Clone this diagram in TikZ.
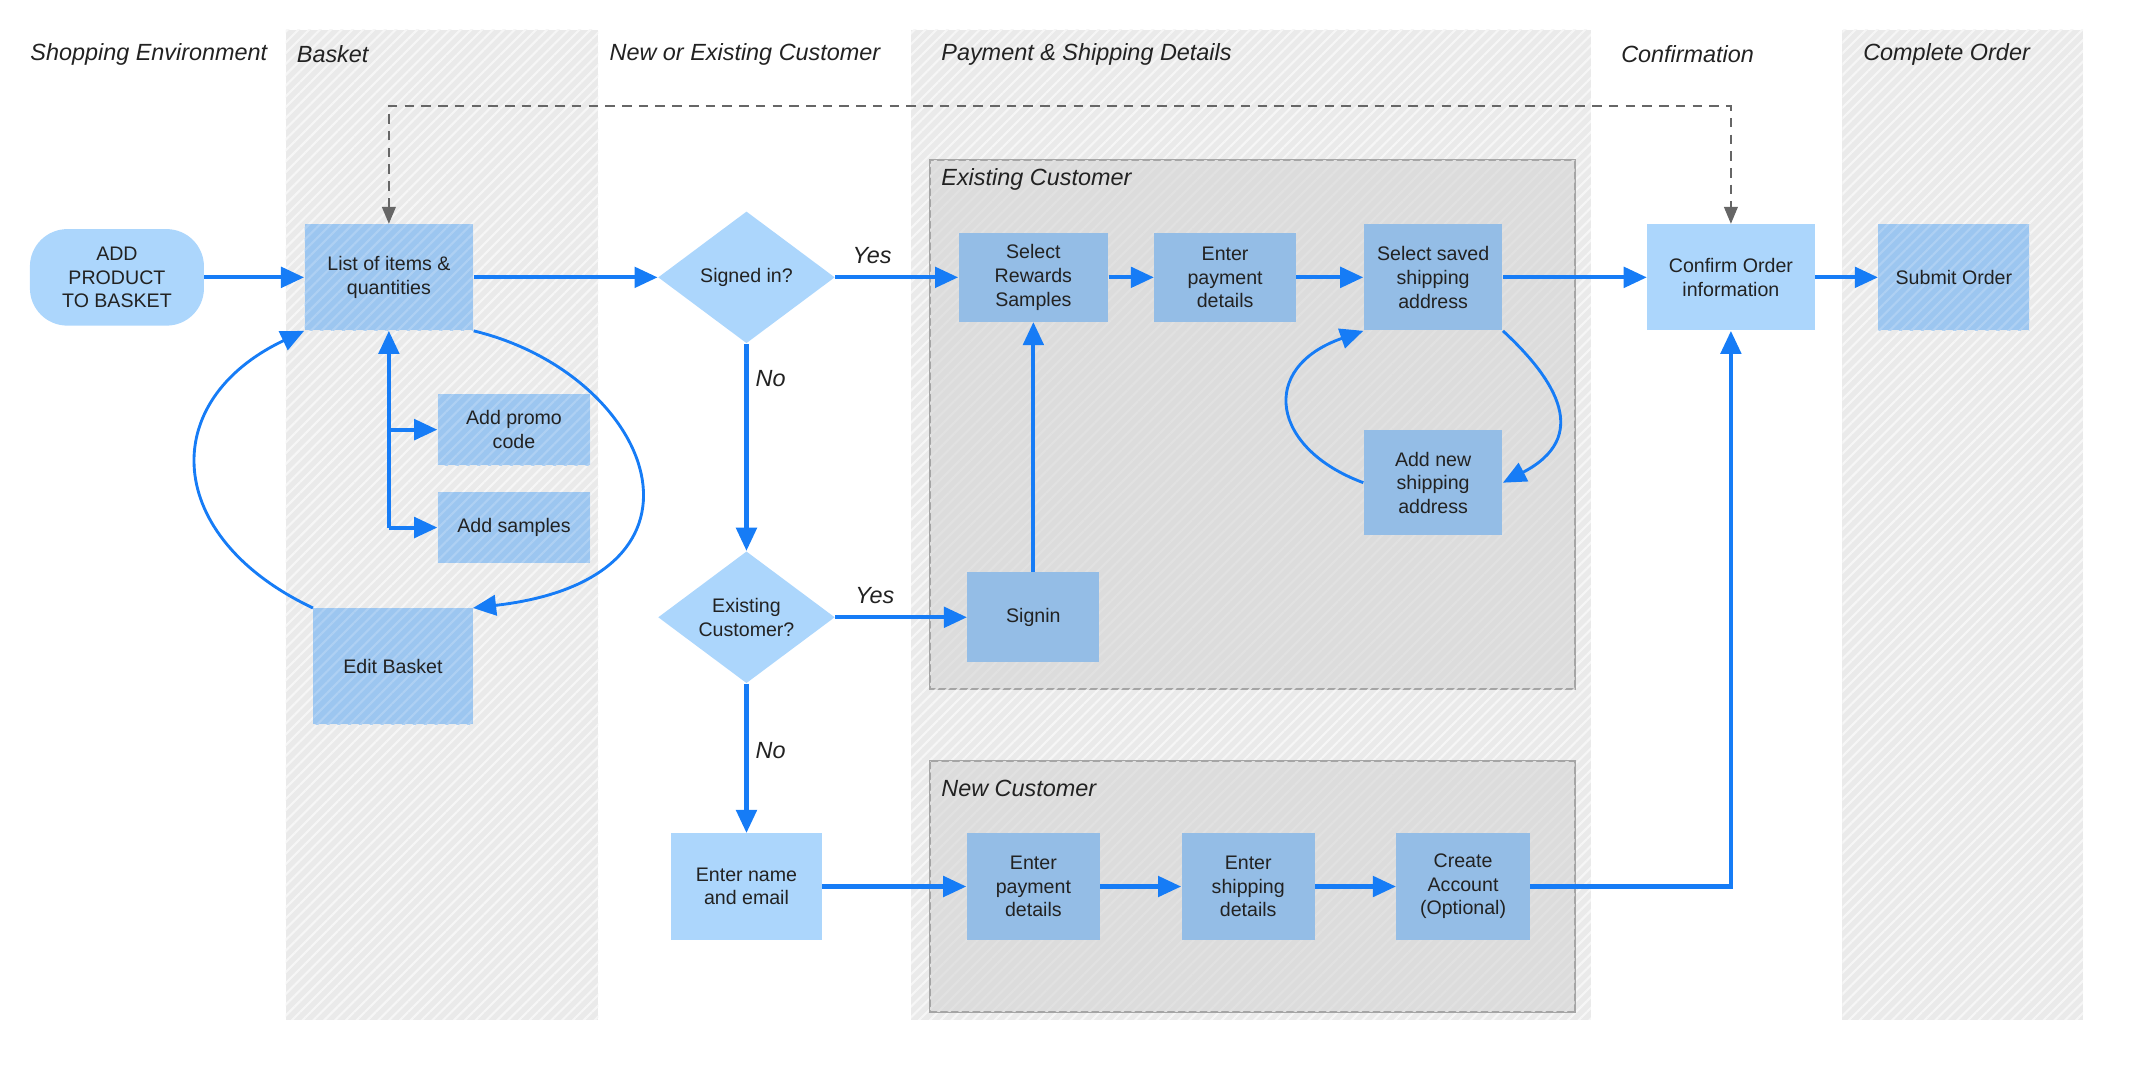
\documentclass[tikz,border=0pt]{standalone}
\usepackage{fontspec}
\setmainfont{Liberation Sans}
\usepackage{xcolor}
\usetikzlibrary{shapes.geometric, arrows.meta, patterns.meta}

\definecolor{flowblue}{RGB}{22,124,246}
\definecolor{paleblue}{RGB}{172,214,252}
\definecolor{midblue}{RGB}{156,198,240}
\definecolor{groupblue}{RGB}{148,189,230}
\definecolor{lanegray}{RGB}{234,234,234}
\definecolor{groupgray}{RGB}{220,220,220}
\definecolor{groupline}{RGB}{165,165,165}
\definecolor{inkgray}{RGB}{34,34,34}

\newcommand{\boxfont}{\fontsize{8.2}{9.9}\selectfont}
\newcommand{\titlefont}{\fontsize{9.8}{11}\selectfont\itshape}

\tikzset{
	laneband/.style={fill=lanegray, postaction={pattern={Lines[angle=45, distance=3.2pt, line width=0.9pt]}, pattern color=lanegray!45!white}},
	groupframe/.style={draw=groupline, line width=0.8pt, fill=groupgray, postaction={pattern={Lines[angle=45, distance=3.2pt, line width=0.9pt]}, pattern color=groupgray!85!white}},
	base/.style={align=center, text=inkgray, font=\boxfont, inner sep=1pt},
	plainbox/.style={base, rectangle, fill=paleblue},
	hatchbox/.style={base, rectangle, fill=midblue, postaction={pattern={Lines[angle=45, distance=3.2pt, line width=0.9pt]}, pattern color=midblue!82!white}},
	groupitem/.style={base, rectangle, fill=groupblue},
	startbox/.style={base, rectangle, rounded corners=0.55cm, fill=paleblue},
	choice/.style={base, diamond, aspect=1.34, fill=paleblue, minimum width=2.6cm, minimum height=1.94cm, inner sep=0pt},
	flow/.style={draw=flowblue, line width=1.7pt, -{Triangle[length=3.4mm, width=3mm]}},
	backflow/.style={flow, line width=1.2pt},
	dashlink/.style={draw=gray!80!black, line width=0.9pt, dash pattern=on 4pt off 3pt, {Triangle[length=2.5mm, width=2mm]}-{Triangle[length=2.5mm, width=2mm]}},
	lanetitle/.style={anchor=west, font=\titlefont, text=inkgray, inner sep=0pt},
	answer/.style={font=\titlefont, text=inkgray, inner sep=0pt}
}

\begin{document}
\begin{tikzpicture}
	\useasboundingbox (0, 0) rectangle (31.36, 15.8);

	% Lanes and groups
	\fill[laneband] (4.2, 0.8) rectangle (8.8, 15.36);
	\fill[laneband] (13.4, 0.8) rectangle (23.4, 15.36);
	\fill[laneband] (27.1, 0.8) rectangle (30.64, 15.36);

	\path[groupframe] (13.68, 5.66) rectangle (23.16, 13.44);
	\path[groupframe] (13.68, 0.92) rectangle (23.16, 4.6);

	\node[lanetitle] (shophead) at (0.44, 15.0) {Shopping Environment};
	\node[lanetitle] (baskethead) at (4.36, 15.0) {Basket};
	\node[lanetitle] (customerhead) at (8.96, 15.0) {New or Existing Customer};
	\node[lanetitle] (paymenthead) at (13.84, 15.0) {Payment \& Shipping Details};
	\node[lanetitle] (confirmhead) at (23.84, 15.0) {Confirmation};
	\node[lanetitle] (orderhead) at (27.4, 15.0) {Complete Order};

	\node[lanetitle] (oldlabel) at (13.84, 13.16) {Existing Customer};
	\node[lanetitle] (newlabel) at (13.84, 4.2) {New Customer};

	% Steps
	\node[startbox, minimum width=2.56cm, minimum height=1.42cm] (addprod) at (1.72, 11.72) {ADD\\PRODUCT\\TO BASKET};
	\node[hatchbox, minimum width=2.48cm, minimum height=1.56cm] (items) at (5.72, 11.72) {List of items \&\\quantities};
	\node[hatchbox, minimum width=2.24cm, minimum height=1.04cm] (promo) at (7.56, 9.48) {Add promo\\code};
	\node[hatchbox, minimum width=2.24cm, minimum height=1.04cm] (samples) at (7.56, 8.04) {Add samples};
	\node[hatchbox, minimum width=2.34cm, minimum height=1.7cm] (edit) at (5.78, 6.0) {Edit Basket};

	\node[choice] (signed) at (10.98, 11.72) {Signed in?};
	\node[choice] (existing) at (10.98, 6.72) {Existing\\Customer?};
	\node[plainbox, minimum width=2.22cm, minimum height=1.56cm] (name) at (10.98, 2.76) {Enter name\\and email};

	\node[groupitem, minimum width=2.2cm, minimum height=1.3cm] (rewards) at (15.2, 11.72) {Select\\Rewards\\Samples};
	\node[groupitem, minimum width=2.08cm, minimum height=1.3cm] (payold) at (18.02, 11.72) {Enter\\payment\\details};
	\node[groupitem, minimum width=2.04cm, minimum height=1.56cm] (saved) at (21.08, 11.72) {Select saved\\shipping\\address};
	\node[groupitem, minimum width=2.04cm, minimum height=1.54cm] (newaddr) at (21.08, 8.7) {Add new\\shipping\\address};
	\node[groupitem, minimum width=1.94cm, minimum height=1.32cm] (signin) at (15.2, 6.72) {Signin};

	\node[groupitem, minimum width=1.96cm, minimum height=1.56cm] (paynew) at (15.2, 2.76) {Enter\\payment\\details};
	\node[groupitem, minimum width=1.96cm, minimum height=1.56cm] (shipnew) at (18.36, 2.76) {Enter\\shipping\\details};
	\node[groupitem, minimum width=1.96cm, minimum height=1.56cm] (account) at (21.52, 2.76) {Create\\Account\\(Optional)};

	\node[plainbox, minimum width=2.46cm, minimum height=1.56cm] (confirm) at (25.46, 11.72) {Confirm Order\\information};
	\node[hatchbox, minimum width=2.22cm, minimum height=1.56cm] (submit) at (28.74, 11.72) {Submit Order};

	% Draw the arrows between the steps
	\draw[flow] (addprod) -- (items);
	\draw[flow] (items) -- (signed);
	\draw[flow] (signed) -- node[answer, above=5pt, pos=0.3] {Yes} (rewards);
	\draw[flow] (signed) -- node[answer, right=3pt, pos=0.17] {No} (existing);
	\draw[flow] (existing) -- node[answer, above=5pt, pos=0.3] {Yes} (signin);
	\draw[flow] (existing) -- node[answer, right=3pt, pos=0.45] {No} (name);
	\draw[flow] (signin) -- (rewards);
	\draw[flow] (rewards) -- (payold);
	\draw[flow] (payold) -- (saved);
	\draw[flow] (saved) -- (confirm);
	\draw[flow] (confirm) -- (submit);
	\draw[flow] (name) -- (paynew);
	\draw[flow] (paynew) -- (shipnew);
	\draw[flow] (shipnew) -- (account);
	\draw[flow] (account) -| (confirm);

	\coordinate (fork) at (5.72, 8.04);
	\draw[flow] (fork) -- (items);
	\draw[flow] (fork) -- (samples);
	\draw[flow] (fork |- promo) -- (promo);

	\draw[backflow] (items.south east) .. controls (9.6, 10.3) and (10.8, 7.3) .. (edit.north east);
	\draw[backflow] (edit.north west) .. controls (2.4, 7.9) and (2.3, 9.9) .. (items.south west);
	\draw[backflow] (saved.south east) .. controls (22.9, 10.2) and (23.4, 9.37) .. (newaddr.east);
	\draw[backflow] (newaddr.west) .. controls (18.7, 9.2) and (18.5, 10.39) .. (saved.south west);

	\coordinate (dashtop) at (5.72, 14.24);
	\draw[dashlink] (items.north) -- (dashtop) -| (confirm.north);
\end{tikzpicture}
\end{document}
